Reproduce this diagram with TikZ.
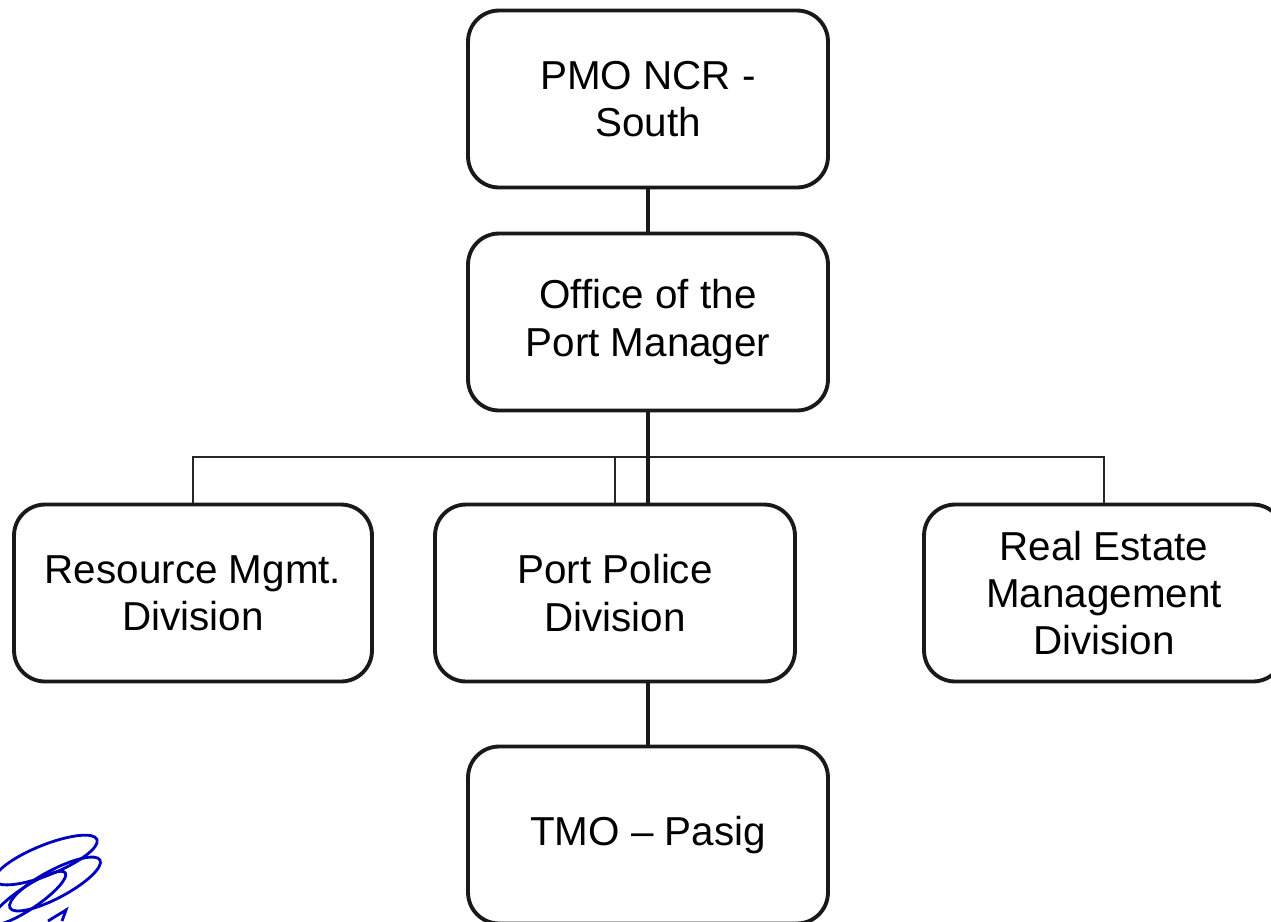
\documentclass[tikz,border=0pt]{standalone}
\usepackage{fontspec}
\setmainfont{Liberation Sans}
\begin{document}
\begin{tikzpicture}[x=0.02cm,y=-0.02cm,
  orgbox/.style={draw=black!90, line width=2.2pt, rounded corners=0.62cm,
    minimum width=7.2cm, minimum height=3.54cm, align=center,
    font=\fontsize{23}{27}\selectfont, fill=white},
  thinline/.style={draw=black!85, line width=1.1pt},
  thickline/.style={draw=black!90, line width=2.2pt},
  sig/.style={draw=blue!75!black, line width=1.6pt}]
\useasboundingbox (0,0) rectangle (1271,921);
\clip (0,0) rectangle (1271,921);
% nodes
\node[orgbox] (pmo) at (648,99) {PMO NCR -\\South};
\node[orgbox] (opm) at (648,322) {Office of the\\Port Manager};
\node[orgbox, minimum width=7.16cm] (rmd) at (193,593) {Resource Mgmt.\\Division};
\node[orgbox] (ppd) at (615,593) {Port Police\\Division};
\node[orgbox] (red) at (1104,593) {Real Estate\\Management\\Division};
\node[orgbox] (tmo) at (648,835) {TMO -- Pasig};
\coordinate (bus) at (647,457);
% connectors
\draw[thickline] (pmo.south) -- (opm.north);
\draw[thinline] (rmd.north) |- (bus) -| (red.north);
\draw[thinline] (ppd.north) -- (ppd.north |- bus);
\draw[thickline] (opm.south) -- (opm.south |- ppd.north);
\draw[thickline] (tmo.north -| opm.south) -- (ppd.south -| opm.south);
% signature
\draw[sig, rotate around={22:(46,860)}] (46,860) ellipse [x radius=1.1cm, y radius=0.3cm];
\draw[sig, rotate around={28:(55,884)}] (55,884) ellipse [x radius=1.02cm, y radius=0.28cm];
\draw[sig, rotate around={34:(28,898)}] (28,898) ellipse [x radius=0.9cm, y radius=0.22cm];
\draw[sig] (48,921) -- (66,910) -- (62,921);
\end{tikzpicture}
\end{document}
